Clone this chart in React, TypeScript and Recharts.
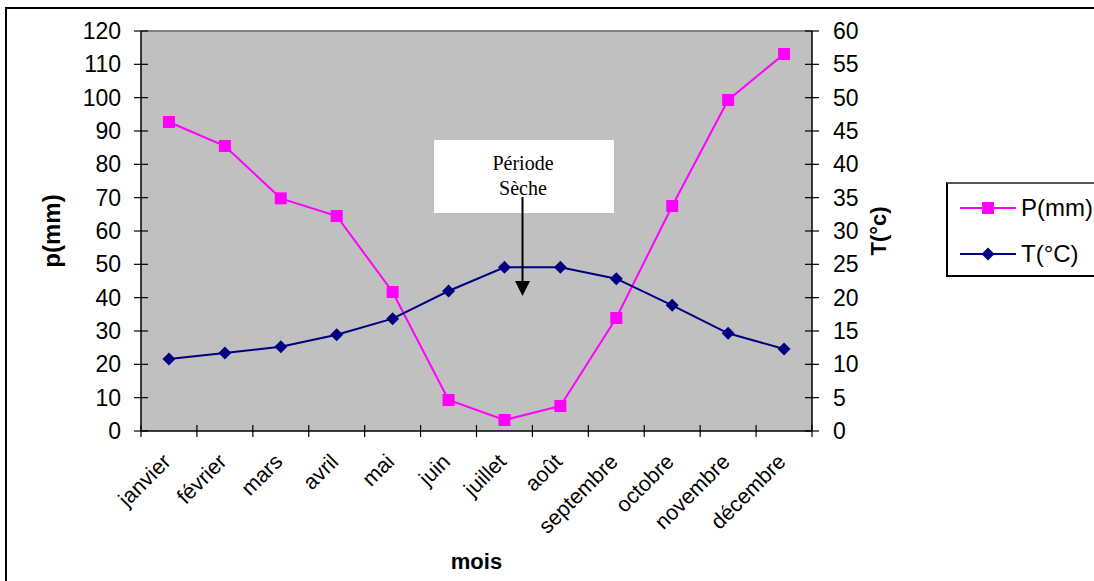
import React from 'react';
import { ComposedChart, Line, XAxis, YAxis, CartesianGrid, Legend, ReferenceLine } from 'recharts';

const months = ['janvier', 'février', 'mars', 'avril', 'mai', 'juin', 'juillet', 'août', 'septembre', 'octobre', 'novembre', 'décembre'];
const precip = [92.7, 85.5, 69.8, 64.5, 41.7, 9.3, 3.3, 7.5, 33.9, 67.5, 99.3, 113.1];
const temp = [10.8, 11.7, 12.65, 14.45, 16.85, 21.0, 24.55, 24.55, 22.85, 18.85, 14.65, 12.3];
const leftTicks = [0, 10, 20, 30, 40, 50, 60, 70, 80, 90, 100, 110, 120];
const rightTicks = [0, 5, 10, 15, 20, 25, 30, 35, 40, 45, 50, 55, 60];

const data = months.map((m, i) => ({ mois: m, P: precip[i], T: temp[i] }));

const FONT = '"Liberation Sans", Arial, sans-serif';
const PINK = '#FF00FF';
const NAVY = '#000080';

const Square = (props: any) => {
  const { cx, cy, index } = props;
  return <rect key={'sq' + index} x={cx - 6} y={cy - 6} width={12} height={12} fill={PINK} />;
};

const Diamond = (props: any) => {
  const { cx, cy, index } = props;
  return <polygon key={'dm' + index} points={`${cx},${cy - 6.5} ${cx + 6.5},${cy} ${cx},${cy + 6.5} ${cx - 6.5},${cy}`} fill={NAVY} />;
};

const LeftTick = (props: any) => {
  const { x, y, payload } = props;
  return (
    <g>
      <line x1={x - 7} x2={x + 7} y1={y} y2={y} stroke="#000" strokeWidth={1.2} />
      <text x={x - 20} y={y} dy={8} textAnchor="end" fontSize={23} fontFamily={FONT} fill="#000">{payload.value}</text>
    </g>
  );
};

const RightTick = (props: any) => {
  const { x, y, payload } = props;
  return (
    <g>
      <line x1={x - 7} x2={x + 7} y1={y} y2={y} stroke="#000" strokeWidth={1.2} />
      <text x={x + 21} y={y} dy={8} textAnchor="start" fontSize={23} fontFamily={FONT} fill="#000">{payload.value}</text>
    </g>
  );
};

const MonthTick = (props: any) => {
  const { x, y, payload, index } = props;
  const half = payload.offset || 27.9;
  const last = index === months.length - 1;
  const tx = x + 3;
  const ty = y + 32;
  return (
    <g>
      <line x1={x - half} x2={x - half} y1={y - 6} y2={y + 6} stroke="#000" strokeWidth={1.2} />
      {last && <line x1={x + half} x2={x + half} y1={y - 6} y2={y + 6} stroke="#000" strokeWidth={1.2} />}
      <text x={tx} y={ty} textAnchor="end" fontSize={21.5} fontFamily={FONT} fill="#000" transform={`rotate(-45 ${tx} ${ty})`}>
        {payload.value}
      </text>
    </g>
  );
};

const LegendBox = () => (
  <div style={{ width: 170, height: 95, boxSizing: 'border-box', border: '2px solid #000', borderTopColor: '#555', background: '#fff', position: 'relative', fontFamily: FONT }}>
    <svg width={170} height={91} style={{ position: 'absolute', left: 0, top: 0 }}>
      <line x1={12} x2={68} y1={24} y2={24} stroke={PINK} strokeWidth={2} />
      <rect x={34} y={18} width={12} height={12} fill={PINK} />
      <text x={73} y={32} fontSize={24} fontFamily={FONT} fill="#000">P(mm)</text>
      <line x1={12} x2={68} y1={70} y2={70} stroke={NAVY} strokeWidth={2} />
      <polygon points="40,63.5 46.5,70 40,76.5 33.5,70" fill={NAVY} />
      <text x={73} y={78} fontSize={24} fontFamily={FONT} fill="#000">T(°C)</text>
    </svg>
  </div>
);

const App = () => {
  return (
    <div style={{ position: 'fixed', left: 0, top: 0, width: 1094, height: 581, overflow: 'hidden', background: '#fff' }}>
      <div style={{ position: 'absolute', left: 5, top: 7, width: 1200, height: 700, border: '2px solid #000' }} />
      <div style={{ position: 'absolute', left: 0, top: 0 }}>
        <ComposedChart width={1094} height={581} data={data} margin={{ top: 31, right: 12, left: 0, bottom: 0 }}>
          <CartesianGrid fill="#C0C0C0" horizontal={false} vertical={false} yAxisId="left" />
          <XAxis
            dataKey="mois"
            scale="band"
            height={150}
            tickSize={0}
            tickMargin={0}
            tickLine={false}
            axisLine={{ stroke: '#000', strokeWidth: 1.5 }}
            interval={0}
            tick={<MonthTick />}
            label={{ value: 'mois', position: 'insideBottom', offset: 12, fontSize: 22, fontWeight: 'bold', fontFamily: FONT, fill: '#000' }}
          />
          <YAxis
            yAxisId="left"
            width={141}
            domain={[0, 120]}
            ticks={leftTicks}
            interval={0}
            tickSize={0}
            tickMargin={0}
            tickLine={false}
            axisLine={{ stroke: '#000', strokeWidth: 1.5 }}
            tick={<LeftTick />}
            label={(p: any) => {
              const vb = p.viewBox;
              const cx = vb.x + 52;
              const cy = vb.y + vb.height / 2;
              return <text x={cx} y={cy} dy={8} textAnchor="middle" fontSize={24} fontWeight="bold" fontFamily={FONT} fill="#000" transform={`rotate(-90 ${cx} ${cy})`}>p(mm)</text>;
            }}
          />
          <YAxis
            yAxisId="right"
            orientation="right"
            width={100}
            domain={[0, 60]}
            ticks={rightTicks}
            interval={0}
            tickSize={0}
            tickMargin={0}
            tickLine={false}
            axisLine={{ stroke: '#000', strokeWidth: 1.5 }}
            tick={<RightTick />}
            label={(p: any) => {
              const vb = p.viewBox;
              const cx = vb.x + 66;
              const cy = vb.y + vb.height / 2;
              return <text x={cx} y={cy} dy={8} textAnchor="middle" fontSize={22} fontWeight="bold" fontFamily={FONT} fill="#000" transform={`rotate(-90 ${cx} ${cy})`}>T(°c)</text>;
            }}
          />
          <ReferenceLine yAxisId="left" y={120} stroke="#808080" strokeWidth={2} />
          <Legend layout="vertical" align="right" verticalAlign="middle" content={<LegendBox />} wrapperStyle={{ left: 946, top: 182, width: 170, height: 95 }} />
          <Line yAxisId="left" type="linear" dataKey="P" name="P(mm)" stroke={PINK} strokeWidth={2} dot={Square} activeDot={false} isAnimationActive={false} />
          <Line yAxisId="right" type="linear" dataKey="T" name="T(°C)" stroke={NAVY} strokeWidth={2} dot={Diamond} activeDot={false} isAnimationActive={false} />
        </ComposedChart>
      </div>
      <svg width={1094} height={581} style={{ position: 'absolute', left: 0, top: 0, pointerEvents: 'none' }}>
        <rect x={434} y={140} width={180} height={73} fill="#fff" />
        <text x={523} y={170} textAnchor="middle" fontSize={20} fontFamily='"Liberation Serif", "Times New Roman", serif' fill="#000">Période</text>
        <text x={523} y={195} textAnchor="middle" fontSize={20} fontFamily='"Liberation Serif", "Times New Roman", serif' fill="#000">Sèche</text>
        <line x1={522.5} x2={522.5} y1={197} y2={283} stroke="#000" strokeWidth={2} />
        <polygon points="515,281 530,281 522.5,296" fill="#000" />
      </svg>
    </div>
  );
};

export default App;
